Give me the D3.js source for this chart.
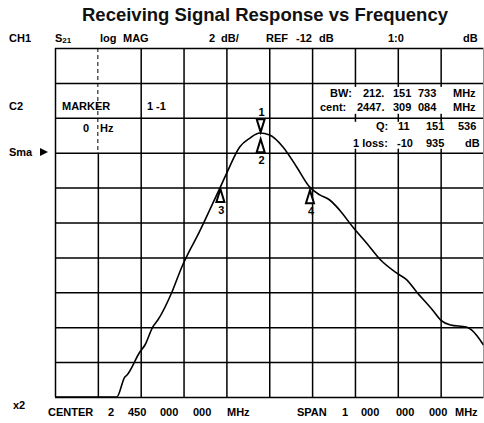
<!DOCTYPE html>
<html>
<head>
<meta charset="utf-8">
<script src="https://cdn.jsdelivr.net/npm/d3@7"></script>
<style>
  body { margin: 0; background: #fff; }
  svg { display: block; font-family: 'Liberation Sans', Arial, sans-serif; }
  .lbl { font-size: 11px; font-weight: bold; fill: #000; }
  .title { font-size: 18.5px; font-weight: bold; fill: #111; }
</style>
</head>
<body>
<svg width="484" height="423"></svg>
<script>
// trace: frequency (MHz) and S21 (dB)
const traceFreq = [1950, 2094, 2113, 2118, 2148, 2160, 2178, 2190, 2223, 2246, 2265, 2281, 2300,
  2335, 2351, 2381, 2405, 2428, 2451, 2482, 2514, 2544, 2568, 2591, 2614, 2645, 2677, 2710,
  2747, 2771, 2794, 2831, 2850, 2873, 2910, 2922, 2950];
const traceDb = [-26, -26, -24.85, -24.74, -23.42, -23.02, -21.99, -21.59, -19.98, -18.55, -17.57,
  -16.83, -15.86, -14.02, -13.16, -11.67, -11.16, -10.87, -10.99, -11.67, -12.82, -13.96, -14.42,
  -14.71, -15.28, -16.26, -17.17, -18.15, -18.89, -19.29, -19.98, -21.01, -21.59, -21.87, -21.99,
  -22.16, -23.02];

// markers
const markerIds = ['1', '2', '3', '4'];
const markerFreq = [2430, 2430, 2336, 2545];
const markerDir = ['down', 'up', 'up', 'up'];

// screen settings
const startFreq = 1950;
const stopFreq = 2950;
const freqStep = 100;
const topDb = -6;
const bottomDb = -26;
const dbStep = 2;

// readout texts
const headerTexts = ['CH1', 'log', 'MAG', '2', 'dB/', 'REF', '-12', 'dB', '1:0', 'dB'];
const bwLine = ['BW:', '212.', '151', '733', 'MHz'];
const centLine = ['cent:', '2447.', '309', '084', 'MHz'];
const qLine = ['Q:', '11', '151', '536'];
const lossLine = ['1 loss:', '-10', '935', 'dB'];
const centerLine = ['CENTER', '2', '450', '000', '000', 'MHz'];
const spanLine = ['SPAN', '1', '000', '000', '000', 'MHz'];

const svg = d3.select('svg');

const margin = { top: 48, right: 0.5, bottom: 26, left: 55 };
const width = +svg.attr('width');
const height = +svg.attr('height');
const innerWidth = width - margin.left - margin.right;
const innerHeight = height - margin.top - margin.bottom;

const xScale = d3.scaleLinear().domain([startFreq, stopFreq]).range([0, innerWidth]);
const yScale = d3.scaleLinear().domain([bottomDb, topDb]).range([innerHeight, 0]);

svg.append('text')
    .attr('class', 'title')
    .attr('text-anchor', 'middle')
    .attr('x', 265)
    .attr('y', 21)
    .text('Receiving Signal Response vs Frequency');

const g = svg.append('g')
    .attr('transform', `translate(${margin.left}, ${margin.top})`);

// vertical grid
const xGrid = g.append('g')
    .attr('transform', `translate(0, ${innerHeight})`)
    .call(d3.axisBottom(xScale)
        .tickValues(d3.range(startFreq, stopFreq + 1, freqStep))
        .tickSize(-innerHeight)
        .tickFormat(''));
xGrid.selectAll('.domain, .tick text').remove();
xGrid.selectAll('.tick line')
    .attr('stroke', '#000')
    .attr('stroke-width', 1.5);
// the 2nd vertical is faint/dashed in the top three rows
xGrid.selectAll('.tick')
    .filter(d => d === startFreq + freqStep)
    .select('line')
    .attr('y2', -(innerHeight - yScale(-12)));
g.append('line')
    .attr('x1', xScale(startFreq + freqStep)).attr('x2', xScale(startFreq + freqStep))
    .attr('y1', 0).attr('y2', yScale(-12))
    .attr('stroke', '#000').attr('stroke-width', 1)
    .attr('stroke-dasharray', '4,3');

// white boxes behind the readout block on the right (short stubs stay visible)
[[-8, -10], [-10, -12]].forEach(([a, b]) => {
    g.append('rect')
        .attr('x', 262)
        .attr('y', yScale(a) + 4)
        .attr('width', innerWidth - 262 - 1)
        .attr('height', yScale(b) - yScale(a) - 8)
        .attr('fill', '#fff');
});

// horizontal grid
const yGrid = g.append('g')
    .call(d3.axisLeft(yScale)
        .tickValues(d3.range(bottomDb, topDb + 1, dbStep))
        .tickSize(-innerWidth)
        .tickFormat(''));
yGrid.selectAll('.domain, .tick text').remove();
yGrid.selectAll('.tick line')
    .attr('stroke', '#000')
    .attr('stroke-width', 1.5);

// right edge is light
g.append('line')
    .attr('x1', innerWidth).attr('x2', innerWidth)
    .attr('y1', 0).attr('y2', innerHeight)
    .attr('stroke', '#999').attr('stroke-width', 1);

// trace
const trace = traceFreq.map((f, i) => ({ f, db: traceDb[i] }));

g.append('clipPath').attr('id', 'plot')
    .append('rect').attr('width', innerWidth).attr('height', innerHeight + 1);

g.append('path')
    .datum(trace)
    .attr('clip-path', 'url(#plot)')
    .attr('fill', 'none')
    .attr('stroke', '#000')
    .attr('stroke-width', 1.6)
    .attr('d', d3.line()
        .x(d => xScale(d.f))
        .y(d => yScale(d.db))
        .curve(d3.curveMonotoneX));

// markers sit on the trace
const dbAt = f => {
    const i = d3.bisector(d => d.f).left(trace, f);
    const a = trace[Math.max(i - 1, 0)], b = trace[i];
    const t = (f - a.f) / (b.f - a.f || 1);
    return a.db + (b.db - a.db) * t;
};

const markers = markerIds.map((id, i) => ({ id, f: markerFreq[i], dir: markerDir[i] }));
const gaps = { '1': 1, '2': 6, '3': 2, '4': 3 };

const mg = g.selectAll('.marker').data(markers)
    .enter().append('g')
    .attr('class', 'marker')
    .attr('transform', d => `translate(${xScale(d.f)}, ${yScale(dbAt(d.f))})`);

mg.append('path')
    .attr('d', d => {
        const s = d.dir === 'down' ? -1 : 1;
        const tip = s * gaps[d.id];
        const base = tip + s * 13;
        return `M0,${tip}L-4,${base}L4,${base}Z`;
    })
    .attr('fill', '#fff')
    .attr('stroke', '#000')
    .attr('stroke-width', 2)
    .attr('stroke-linejoin', 'miter');

mg.append('text')
    .attr('class', 'lbl')
    .attr('text-anchor', 'middle')
    .attr('x', 1)
    .attr('y', d => d.dir === 'down' ? -17 : gaps[d.id] + 25)
    .text(d => d.id);

// readouts (page coordinates)
const place = (tokens, xs, y, parent = svg, dx = 0, dy = 0) => tokens.forEach((t, i) => {
    parent.append('text').attr('class', 'lbl').attr('x', xs[i] - dx).attr('y', y - dy).text(t);
});
const inGrid = (tokens, xs, y) => place(tokens, xs, y, g, margin.left, margin.top);

place(headerTexts, [9, 100, 123, 209, 221, 266, 296, 319, 388, 463], 42);
svg.append('text').attr('class', 'lbl').attr('x', 55).attr('y', 42)
    .text('S').append('tspan').attr('font-size', 8).attr('dy', 1).text('21');

place(['C2'], [9], 110);
place(['Sma'], [9], 156);
svg.append('path').attr('d', 'M40,148L48,152L40,156Z').attr('fill', '#000');
place(['x2'], [13], 409);

inGrid(['MARKER', '1', '-1'], [62, 147, 156], 110);
inGrid(['0', 'Hz'], [83, 100], 132);

inGrid(bwLine, [330, 363, 393, 418, 453], 97);
inGrid(centLine, [320, 357, 393, 418, 453], 111);
inGrid(qLine, [376, 398, 426, 458], 130);
inGrid(lossLine, [353, 397, 426, 465], 147);

place(centerLine, [48, 108, 128, 160, 193, 227], 416);
place(spanLine, [297, 342, 361, 396, 429, 455], 416);
</script>
</body>
</html>
